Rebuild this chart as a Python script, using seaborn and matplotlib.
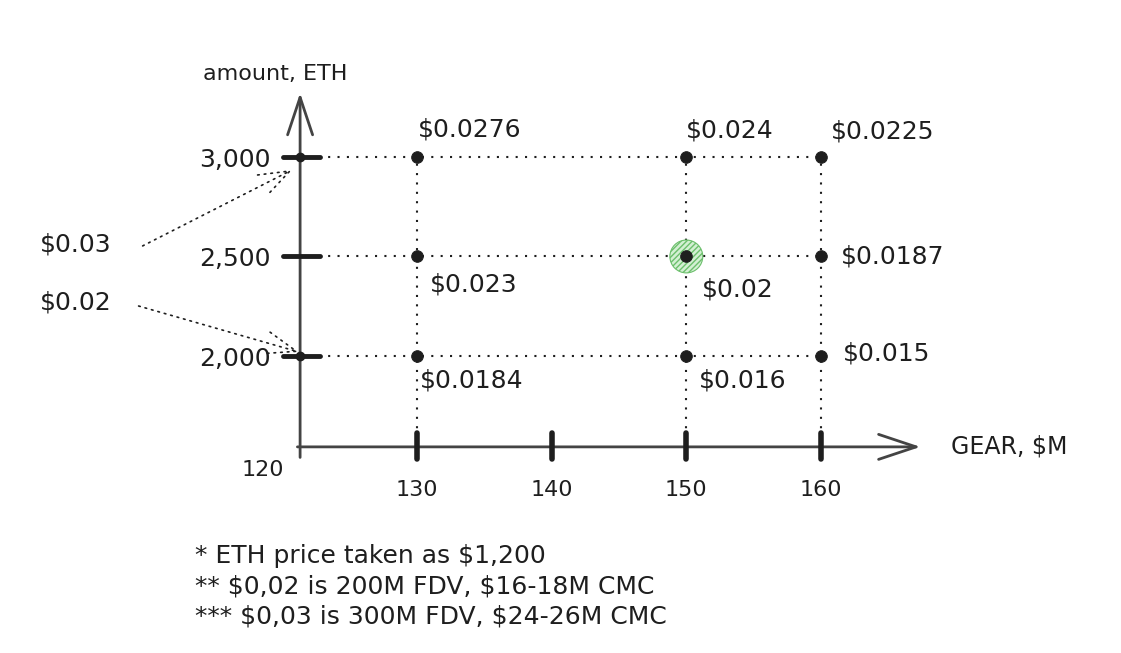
import matplotlib
matplotlib.use("Agg")
import matplotlib.pyplot as plt
import pandas as pd
import seaborn as sns

# data
gear = [130, 150, 160]                      # GEAR, $M
amount = [3000, 2500, 2000]                 # amount, ETH
prices = [['$0.0276', '$0.024', '$0.0225'],
          ['$0.023', '$0.02', '$0.0187'],
          ['$0.0184', '$0.016', '$0.015']]
x_ticks = [130, 140, 150, 160]
x_origin = 120
y_ticks = [3000, 2500, 2000]
y_tick_labels = ['3,000', '2,500', '2,000']
bounds = ['$0.03', '$0.02']                 # price range arrows -> 3,000 / 2,000
highlight = (150, 2500)
notes = ['* ETH price taken as $1,200',
         '** $0,02 is 200M FDV, $16-18M CMC',
         '*** $0,03 is 300M FDV, $24-26M CMC']

# label offsets (pixels) for each price, same order as prices
offsets = [[(1, 27), (0, 26), (10, 25)],
           [(13, -28), (16, -33), (20, 0)],
           [(3, -25), (13, -25), (22, 2)]]


def esc(s):
    return s.replace('$', r'\$')


rows = []
for i, a in enumerate(amount):
    for j, g in enumerate(gear):
        rows.append({'gear': g, 'amount': a, 'price': prices[i][j]})
df = pd.DataFrame(rows)

sns.set_theme(style='white')
plt.rcParams['font.family'] = ['DejaVu Sans']
INK = '#1e1e1e'

fig = plt.figure(figsize=(11.21, 6.53), dpi=100)
ax = fig.add_axes([0, 0, 1, 1])
ax.set_xlim(99.0, 182.3)
ax.set_ylim(507, 3789)
ax.axis('off')

axis_x = 121.3      # where the y axis is drawn
axis_y = 1543       # where the x axis is drawn

# dotted guide lines
dot = dict(color=INK, lw=1.5, linestyle=(0, (1, 3.5)))
for a in amount:
    ax.plot([axis_x, max(gear)], [a, a], **dot, zorder=1)
for g in gear:
    ax.plot([g, g], [axis_y, max(amount)], **dot, zorder=1)

# axes with open arrow heads
arr = dict(arrowstyle='->,head_length=27,head_width=9', color='#444444', lw=2,
           mutation_scale=1, shrinkA=0, shrinkB=0)
ax.annotate('', xy=(axis_x, 3322), xytext=(axis_x, 1490), arrowprops=arr, zorder=2)
ax.annotate('', xy=(167.4, axis_y), xytext=(axis_x - 0.2, axis_y), arrowprops=arr, zorder=2)

# tick bars
for y in y_ticks:
    ax.plot([120.0, 122.8], [y, y], color=INK, lw=3.5, solid_capstyle='round', zorder=3)
for x in x_ticks:
    ax.plot([x, x], [1482, 1613], color=INK, lw=4, solid_capstyle='round', zorder=3)

# highlight at the $0.02 point
ax.scatter([highlight[0]], [highlight[1]], s=560, facecolor='#d3f0d3', edgecolor='#6cbf6c',
           hatch='//////', linewidth=0.8, zorder=3)

sns.scatterplot(data=df, x='gear', y='amount', color=INK, s=70, edgecolor=INK,
                legend=False, ax=ax, zorder=4)
ax.plot([axis_x, axis_x], [3000, 2000], 'o', color=INK, ms=6, zorder=4)
ax.set_xlabel('')
ax.set_ylabel('')

fs = 18
for _, r in df.iterrows():
    i = amount.index(r['amount'])
    j = gear.index(r['gear'])
    dx, dy = offsets[i][j]
    ax.annotate(esc(r['price']), (r['gear'], r['amount']), xytext=(dx * 0.72, dy * 0.72),
                textcoords='offset points', ha='left', va='center', fontsize=fs, color=INK)

for y, lab in zip(y_ticks, y_tick_labels):
    ax.text(119.1, y - 15, lab, ha='right', va='center', fontsize=fs, color=INK)
for x in x_ticks:
    ax.text(x, 1327, str(x), ha='center', va='center', fontsize=fs - 2, color=INK)
ax.text(118.5, 1427, str(x_origin), ha='center', va='center', fontsize=fs - 2, color=INK)

ax.text(169.7, axis_y, esc('GEAR, $M'), ha='left', va='center', fontsize=fs - 1, color=INK)
ax.text(114.1, 3417, 'amount, ETH', ha='left', va='center', fontsize=fs - 2, color=INK)

# price range labels with dotted arrows
ax.text(102.0, 2558, esc(bounds[0]), ha='left', va='center', fontsize=fs, color=INK)
ax.text(102.0, 2271, esc(bounds[1]), ha='left', va='center', fontsize=fs, color=INK)
darr = dict(arrowstyle='->,head_length=22,head_width=8', color=INK, lw=1.2,
            linestyle=(0, (1, 3)), mutation_scale=1, shrinkA=0, shrinkB=0)
ax.annotate('', xy=(120.7, 2935), xytext=(109.6, 2553), arrowprops=darr)
ax.annotate('', xy=(121.2, 2020), xytext=(109.3, 2251), arrowprops=darr)

for k, note in enumerate(notes):
    ax.text(113.5, [995, 839, 688][k], esc(note), ha='left', va='center', fontsize=fs, color=INK)

fig.savefig('out.png', dpi=100, facecolor='white')
